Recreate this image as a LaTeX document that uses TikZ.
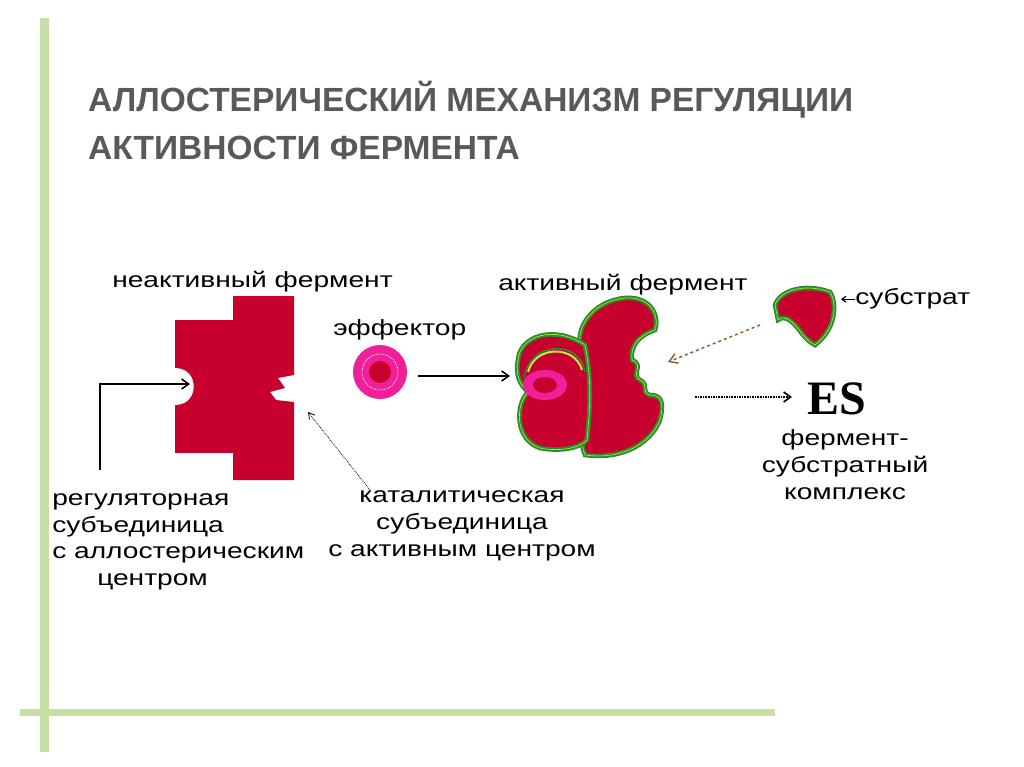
\documentclass[tikz,border=0pt]{standalone}
\usepackage{fontspec}
\setmainfont{Liberation Sans}
\newfontfamily\esfont{Liberation Serif}
\usetikzlibrary{arrows.meta}
\definecolor{crim}{HTML}{C8002E}
\definecolor{lgreen}{HTML}{C6E0A4}
\definecolor{ttl}{HTML}{595959}
\definecolor{pinkm}{HTML}{F0209A}
\definecolor{rimg}{HTML}{2E8B2E}
\definecolor{rimy}{HTML}{B8F040}
\begin{document}
\begin{tikzpicture}[x=1pt,y=-1pt,
  lbl/.style={font=\fontsize{22}{27}\selectfont, inner sep=0pt, xscale=1.28},
  arr/.style={-{Straight Barb[length=7pt,width=10pt]}, line width=1.6pt},
  blob/.style={fill=crim, draw=rimg, line width=2pt, double=rimy}]
\useasboundingbox (0,0) rectangle (1024,767);
\fill[white] (0,0) rectangle (1024,767);
\fill[lgreen] (40,18) rectangle (49,752);
\fill[lgreen] (20,709) rectangle (775,716);
% title
\node[anchor=base west, inner sep=0pt, text=ttl, font=\bfseries\fontsize{33.5}{40}\selectfont] (t1) at (88,112) {АЛЛОСТЕРИЧЕСКИЙ МЕХАНИЗМ РЕГУЛЯЦИИ};
\node[anchor=base west, inner sep=0pt, text=ttl, font=\bfseries\fontsize{33.5}{40}\selectfont] (t2) at (88,160) {АКТИВНОСТИ ФЕРМЕНТА};
% inactive enzyme
\fill[crim] (175,320) rectangle (233,453);
\fill[crim] (233,296) -- (294,296) -- (294,375) -- (278,378) -- (285,388) -- (270,392) -- (276,400) -- (294,402) -- (294,480) -- (233,480) -- cycle;
\fill[white] (175,368) .. controls (200,368) and (200,405) .. (175,405) -- cycle;
\node[lbl, anchor=base west] (inact) at (112,287) {неактивный фермент};
% regulatory arrow
\coordinate (rstart) at (100,470);
\coordinate (rtip) at (190,384);
\draw[arr] (rstart) |- (rtip);
% effector
\node[circle, fill=pinkm, minimum size=54pt, inner sep=0pt] (eff) at (380,372) {};
\node[circle, fill=crim, minimum size=22pt, inner sep=0pt] at (eff) {};
\draw[white, line width=0.8pt, densely dotted] (eff) circle (18);
\node[lbl, anchor=base west] (efl) at (333,335) {эффектор};
\coordinate (ea1) at (418,376);
\coordinate (ea2) at (510,376);
\draw[arr] (ea1) -- (ea2);
% active enzyme
\path[blob] (585,455) .. controls (575,430) and (585,380) .. (580,350) .. controls (575,320) and (600,300) .. (625,298) .. controls (650,296) and (660,315) .. (655,330) .. controls (640,335) and (630,345) .. (632,360) .. controls (645,365) and (630,375) .. (640,380) .. controls (650,385) and (640,392) .. (650,395) .. controls (660,395) and (665,400) .. (660,420) .. controls (650,445) and (620,460) .. (585,455) -- cycle;
\path[blob] (585,345) .. controls (555,325) and (520,335) .. (518,360) .. controls (515,375) and (520,385) .. (528,392) .. controls (515,405) and (515,440) .. (540,448) .. controls (560,452) and (580,448) .. (587,440) .. controls (590,410) and (592,380) .. (585,345) -- cycle;
\draw[rimy, line width=2pt] (528,372) .. controls (535,345) and (575,345) .. (582,370);
\draw[rimg, line width=1.5pt] (524,378) .. controls (530,340) and (580,340) .. (585,372);
\fill[pinkm] (545,385) ellipse (22 and 15);
\fill[crim] (545,385) ellipse (12 and 8);
\node[lbl, anchor=base west] (actl) at (498,290) {активный фермент};
% substrate
\path[blob] (775,305) .. controls (780,290) and (805,283) .. (830,292) .. controls (838,305) and (835,330) .. (815,345) .. controls (805,340) and (800,330) .. (795,325) .. controls (790,320) and (785,315) .. (778,320) -- cycle;
\node[lbl, anchor=base west] (subl) at (855,304) {субстрат};
\draw[-{Straight Barb[length=4pt,width=6pt]}, line width=1.2pt] ([yshift=-1pt]subl.west) -- ++(-14,0);
\coordinate (sa1) at (760,325);
\coordinate (sa2) at (668,362);
\draw[-{Straight Barb[length=8pt,width=10pt]}, line width=1.4pt, dashed, brown!70!black] (sa1) -- (sa2);
% ES
\coordinate (es1) at (695,397);
\coordinate (es2) at (792,397);
\draw[arr, densely dotted] (es1) -- (es2);
\node[inner sep=0pt, font=\esfont\bfseries\fontsize{48}{48}\selectfont, anchor=base] (es) at (837,414) {ES};
\node[lbl, align=center, anchor=north] (esl) at (845,429) {фермент-\\субстратный\\комплекс};
% bottom labels
\node[lbl, anchor=base west] (r1) at (52,505) {регуляторная};
\node[lbl, anchor=base west] (r2) at (52,532) {субъединица};
\node[lbl, anchor=base west] (r3) at (52,558) {с аллостерическим};
\node[lbl, anchor=base west] (r4) at (97,585) {центром};
\node[lbl, align=center, anchor=north] (cat) at (462,490) {каталитическая\\субъединица\\с активным центром};
\coordinate (ca1) at (370,490);
\coordinate (ca2) at (308,412);
\draw[-{Straight Barb[length=6pt,width=7pt]}, line width=0.8pt, densely dotted] (ca1) -- (ca2);
\end{tikzpicture}
\end{document}
